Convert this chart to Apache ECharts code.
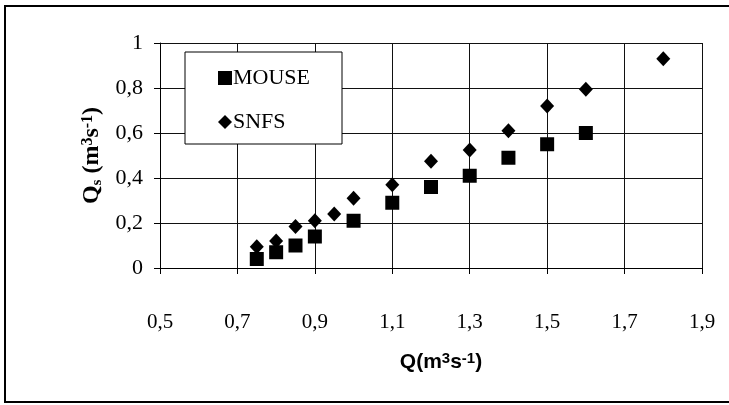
<!DOCTYPE html>
<html>
<head>
<meta charset="utf-8">
<script src="https://cdn.jsdelivr.net/npm/echarts@6/dist/echarts.min.js"></script>
<style>
html,body{margin:0;padding:0;background:#fff;}
#chart{width:729px;height:405px;}
</style>
</head>
<body>
<div id="chart"></div>
<script>
// Data
var mouseQ  = [0.75, 0.80, 0.85, 0.90, 1.00, 1.10, 1.20, 1.30, 1.40, 1.50, 1.60];
var mouseQs = [0.04, 0.07, 0.10, 0.14, 0.21, 0.29, 0.36, 0.41, 0.49, 0.55, 0.60];
var snfsQ   = [0.75, 0.80, 0.85, 0.90, 0.95, 1.00, 1.10, 1.20, 1.30, 1.40, 1.50, 1.60, 1.80];
var snfsQs  = [0.095, 0.12, 0.185, 0.21, 0.24, 0.31, 0.37, 0.475, 0.525, 0.61, 0.72, 0.795, 0.93];
var seriesNames = ['MOUSE', 'SNFS'];
var xMin = 0.5, xMax = 1.9, xStep = 0.2;
var yMin = 0, yMax = 1, yStep = 0.2;

function pairs(xs, ys) { return xs.map(function (x, i) { return [x, ys[i]]; }); }
function fmt(v) { return String(Math.round(v * 10) / 10).replace('.', ','); }

var chart = echarts.init(document.getElementById('chart'), null, {renderer: 'canvas'});
var serif = '"Liberation Serif", "Times New Roman", serif';
var sans = '"Liberation Sans Narrow", "Liberation Sans", Arial, sans-serif';

chart.setOption({
  animation: false,
  backgroundColor: '#fff',
  graphic: [{
    type: 'rect',
    shape: {x: 5, y: 6, width: 760, height: 396},
    style: {fill: 'none', stroke: '#000', lineWidth: 2},
    silent: true
  }],
  grid: {left: 160, top: 43, width: 542, height: 225, containLabel: false},
  legend: {
    orient: 'vertical',
    left: 185, top: 52,
    padding: [15, 32, 11, 33],
    itemGap: 22,
    itemWidth: 14, itemHeight: 14,
    itemStyle: {borderWidth: 0},
    backgroundColor: '#fff',
    borderColor: '#000', borderWidth: 1,
    textStyle: {fontFamily: serif, fontSize: 22, color: '#000', padding: [0, 0, 0, -4]},
    data: [{name: seriesNames[0], icon: 'rect'}, {name: seriesNames[1], icon: 'diamond'}]
  },
  xAxis: {
    type: 'value', min: xMin, max: xMax, interval: xStep,
    name: '{b|Q}{b|(m}{sup|3}{b|s}{sup|-1}{b|)}',
    nameLocation: 'middle', nameGap: 83,
    nameTextStyle: {
      padding: [0, 0, 0, 20],
      rich: {
        b: {fontFamily: sans, fontWeight: 'bold', fontSize: 21, color: '#000'},
        sup: {fontFamily: sans, fontWeight: 'bold', fontSize: 15, color: '#000', verticalAlign: 'top', padding: [0, 0, 8, 0]}
      }
    },
    axisLine: {show: true, onZero: false, lineStyle: {color: '#000', width: 1}},
    axisTick: {show: true, inside: false, length: 6, lineStyle: {color: '#000'}},
    axisLabel: {formatter: fmt, fontFamily: serif, fontSize: 21, color: '#000', margin: 44},
    splitLine: {show: true, lineStyle: {color: '#111', width: 1}}
  },
  yAxis: {
    type: 'value', min: yMin, max: yMax, interval: yStep,
    name: '{b|Q}{sub|s}{b| (m}{sup|3}{b|s}{sup|-1}{b|)}',
    nameLocation: 'middle', nameRotate: 90, nameGap: 50,
    nameTextStyle: {
      rich: {
        b: {fontFamily: serif, fontWeight: 'bold', fontSize: 24, color: '#000'},
        sub: {fontFamily: serif, fontWeight: 'bold', fontSize: 15, color: '#000', verticalAlign: 'bottom'},
        sup: {fontFamily: serif, fontWeight: 'bold', fontSize: 16, color: '#000', verticalAlign: 'top', padding: [0, 0, 9, 0]}
      }
    },
    axisLine: {show: true, onZero: false, lineStyle: {color: '#000', width: 1}},
    axisTick: {show: true, inside: false, length: 6, lineStyle: {color: '#000'}},
    axisLabel: {formatter: fmt, fontFamily: serif, fontSize: 22, color: '#000', margin: 17},
    splitLine: {show: true, lineStyle: {color: '#111', width: 1}}
  },
  series: [{
    name: seriesNames[0], type: 'scatter', symbol: 'rect', symbolSize: 14,
    itemStyle: {color: '#000', opacity: 1},
    data: pairs(mouseQ, mouseQs), z: 3
  }, {
    name: seriesNames[1], type: 'scatter', symbol: 'diamond', symbolSize: [14, 15],
    itemStyle: {color: '#000', opacity: 1},
    data: pairs(snfsQ, snfsQs), z: 4
  }]
});
</script>
</body>
</html>
